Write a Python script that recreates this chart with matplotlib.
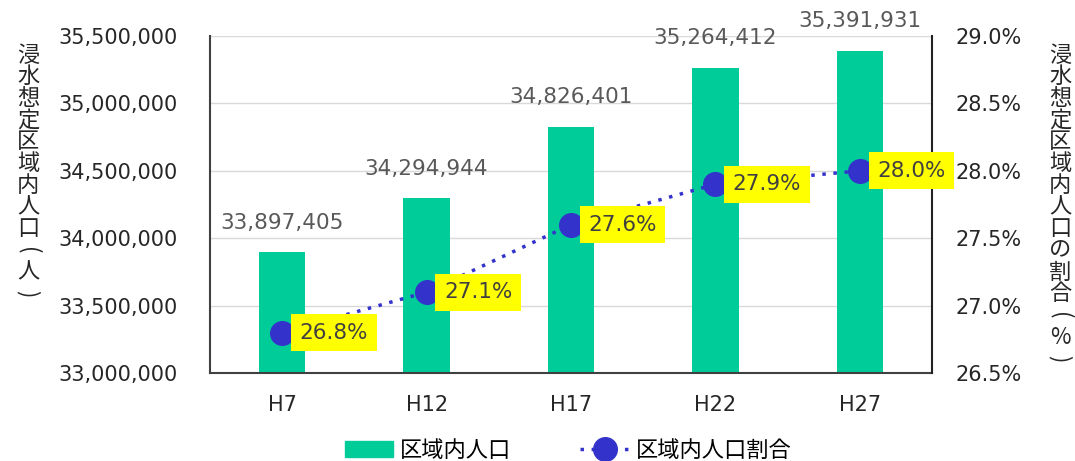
import matplotlib
matplotlib.use("Agg")
import matplotlib.pyplot as plt
from matplotlib.ticker import FuncFormatter, MultipleLocator
from matplotlib.lines import Line2D
from matplotlib.patches import Patch

categories = ["H7", "H12", "H17", "H22", "H27"]
population = [33897405, 34294944, 34826401, 35264412, 35391931]
ratio = [26.8, 27.1, 27.6, 27.9, 28.0]
left_label = "浸水想定区域内人口(人)"
right_label = "浸水想定区域内人口の割合(%)"
legend_labels = ["区域内人口", "区域内人口割合"]

plt.rcParams['font.family'] = ['DejaVu Sans', 'Noto Sans CJK JP']
bar_color = "#00CC99"
line_color = "#3333CC"
text_gray = "#595959"

W, H = 1075, 461
fig = plt.figure(figsize=(W/100, H/100), dpi=100)
ax = fig.add_axes([210/W, 1-373/H, 722/W, 337/H])
x = list(range(len(categories)))
ax.bar(x, population, width=0.32, color=bar_color, zorder=2)
ax.set_xlim(-0.5, len(categories)-0.5)
ax.set_ylim(33000000, 35500000)
ax.yaxis.set_major_locator(MultipleLocator(500000))
ax.yaxis.set_major_formatter(FuncFormatter(lambda v, p: f"{v:,.0f}"))
ax.grid(axis='y', color="#D9D9D9", lw=1, zorder=0)
ax.set_xticks(x)
ax.set_xticklabels(categories)
ax.tick_params(axis='y', length=0, labelsize=15, colors="#262626", pad=23)
ax.tick_params(axis='x', length=0, labelsize=15, colors="#262626", pad=16)
ax.spines['top'].set_visible(False)
ax.spines['right'].set_visible(False)
ax.spines['left'].set_color("#404040")
ax.spines['bottom'].set_color("#404040")
ax.spines['left'].set_linewidth(1.5)
ax.spines['bottom'].set_linewidth(1.5)

for xi, v in zip(x, population):
    ax.annotate(f"{v:,}", (xi, v), xytext=(0, 14), textcoords='offset points',
                ha='center', va='bottom', fontsize=15.5, color=text_gray)

ax2 = ax.twinx()
ax2.set_ylim(26.5, 29.0)
ax2.yaxis.set_major_locator(MultipleLocator(0.5))
ax2.yaxis.set_major_formatter(FuncFormatter(lambda v, p: f"{v:.1f}%"))
ax2.tick_params(axis='y', length=0, labelsize=15, colors="#262626", pad=17)
for s in ['top', 'left', 'bottom']:
    ax2.spines[s].set_visible(False)
ax2.spines['right'].set_color("#222222")
ax2.spines['right'].set_linewidth(1.5)
ax2.plot(x, ratio, color=line_color, ls=(0, (1, 2.2)), lw=2.5,
         marker='o', markersize=17, zorder=3)
for xi, v in zip(x, ratio):
    ax2.annotate(f"{v:.1f}%", (xi, v), xytext=(12.5, 0), textcoords='offset points',
                 ha='left', va='center', fontsize=15.5, color="#404040",
                 bbox=dict(boxstyle='square,pad=0.4', fc="#FFFF00", ec='none'))


def vertical_text(xpix, label, top=55, pitch=21.7):
    for i, ch in enumerate(label):
        rot = -90 if ch in "()" else 0
        fig.text(xpix/W, 1-(top+i*pitch)/H, ch, ha='center', va='center',
                 rotation=rot, rotation_mode='anchor',
                 fontsize=16, family=['Noto Sans CJK JP'], color="#262626")


vertical_text(28, left_label)
vertical_text(1060, right_label)

handles = [Patch(color=bar_color),
           Line2D([0], [0], color=line_color, ls=(0, (1, 2.2)), lw=2.5,
                  marker='o', markersize=17)]
fig.legend(handles, legend_labels, loc='center', bbox_to_anchor=(568/W, 1-450/H),
           ncol=2, frameon=False, columnspacing=3.1,
           handlelength=2.2, handletextpad=0.3,
           prop={'family': ['Noto Sans CJK JP'], 'size': 16})

fig.savefig("out.png", dpi=100)
